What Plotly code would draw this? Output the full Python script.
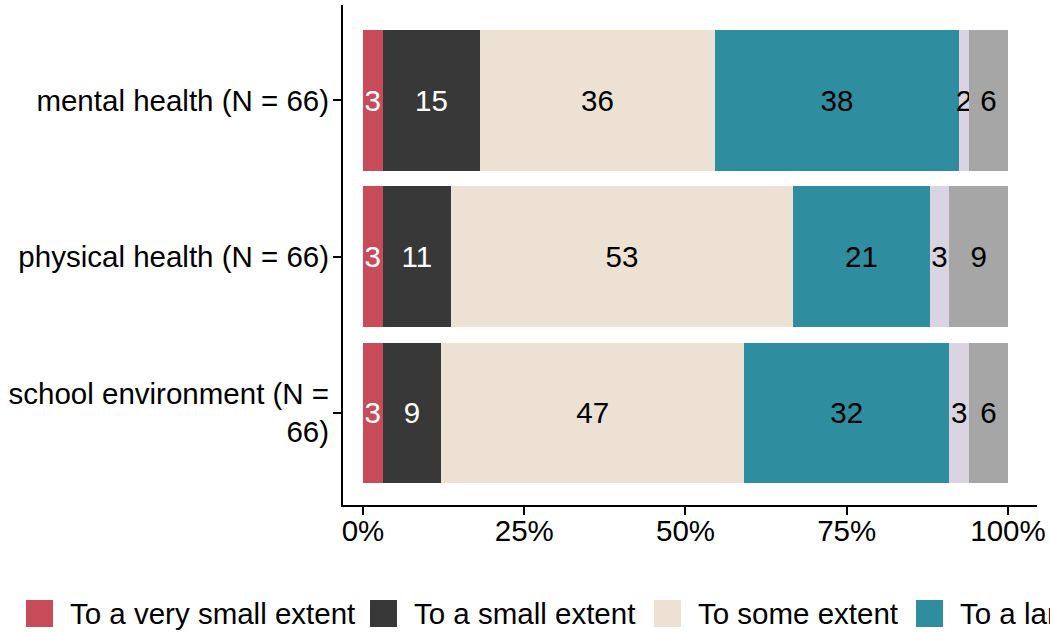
import textwrap
import plotly.graph_objects as go

# ---------------- data ----------------
topics = ["mental health", "physical health", "school environment"]
n_resp = [66, 66, 66]

levels = ["To a very small extent", "To a small extent", "To some extent",
          "To a large extent", "To a very large extent", "Not applicable"]

# number of respondents per answer level, in topic order
very_small = [2, 2, 2]
small = [10, 7, 6]
some = [24, 35, 31]
large = [25, 14, 21]
very_large = [1, 2, 2]
not_applicable = [4, 6, 4]
counts = [very_small, small, some, large, very_large, not_applicable]

x_tick_vals = [0, 25, 50, 75, 100]
x_tick_text = ["0%", "25%", "50%", "75%", "100%"]

# ---------------- styling ----------------
colors = ["#C84B5A", "#383838", "#ECE1D2", "#2E8D9E", "#DAD3E0", "#A6A6A6"]
label_colors = ["white", "white", "black", "black", "black", "black"]
FONT = "Liberation Sans, Arial, Helvetica, sans-serif"
FS = 29.5

W, H = 1050, 632
ML, MR, MT, MB = 343, 13, 5, 127
PW, PH = W - ML - MR, H - MT - MB


def xp(px):
    return (px - ML) / PW


def yp(py):
    return (H - MB - py) / PH


y_labels = ["<br>".join(textwrap.wrap(f"{t} (N = {n})", 25))
            for t, n in zip(topics, n_resp)]

fig = go.Figure()
for lvl, cnt, col, lcol in zip(levels, counts, colors, label_colors):
    pct = [c / n * 100 for c, n in zip(cnt, n_resp)]
    fig.add_trace(go.Bar(
        y=y_labels, x=pct, orientation="h", name=lvl,
        marker=dict(color=col, line=dict(width=0)),
        text=[str(int(p + 0.5)) for p in pct],
        textposition="inside", insidetextanchor="middle", textangle=0,
        constraintext="none",
        textfont=dict(family=FONT, size=FS, color=lcol),
        showlegend=False, hoverinfo="name+x",
    ))

# legend drawn as swatches + text (ggplot style, runs off the right edge)
legend_swatch_px = [26, 370, 654, 916, 1240, 1580]
SW = 27
LEG_Y = 613.5
shapes, annots = [], []
for lvl, col, sx in zip(levels, colors, legend_swatch_px):
    shapes.append(dict(type="rect", xref="paper", yref="paper",
                       x0=xp(sx), x1=xp(sx + SW),
                       y0=yp(LEG_Y + SW / 2), y1=yp(LEG_Y - SW / 2),
                       fillcolor=col, line=dict(width=0), layer="above"))
    annots.append(dict(text=lvl, xref="paper", yref="paper",
                       x=xp(sx + 42), y=yp(LEG_Y), xanchor="left",
                       yanchor="middle", showarrow=False,
                       font=dict(family=FONT, size=FS, color="black")))

fig.update_layout(
    width=W, height=H,
    margin=dict(l=ML, r=MR, t=MT, b=MB, autoexpand=False),
    barmode="stack", bargap=0.1,
    paper_bgcolor="white", plot_bgcolor="white",
    font=dict(family=FONT, size=FS, color="black"),
    shapes=shapes, annotations=annots,
    xaxis=dict(range=[-3.1, 104.5], tickvals=x_tick_vals,
               ticktext=x_tick_text, showgrid=False, zeroline=False,
               showline=True, linecolor="black", linewidth=2,
               ticks="outside", ticklen=8, tickwidth=2, tickcolor="black",
               ticklabelstandoff=-9,
               tickfont=dict(family=FONT, size=FS, color="black")),
    yaxis=dict(type="category", categoryorder="array",
               categoryarray=y_labels, range=[2.59, -0.61],
               showgrid=False, zeroline=False,
               showline=True, linecolor="black", linewidth=2,
               ticks="outside", ticklen=8, tickwidth=2, tickcolor="black",
               ticklabelstandoff=-2,
               tickfont=dict(family=FONT, size=FS, color="black")),
)

fig.write_html("out.html",
               config={"displayModeBar": False},
               post_script="document.body.style.margin='0px';")
